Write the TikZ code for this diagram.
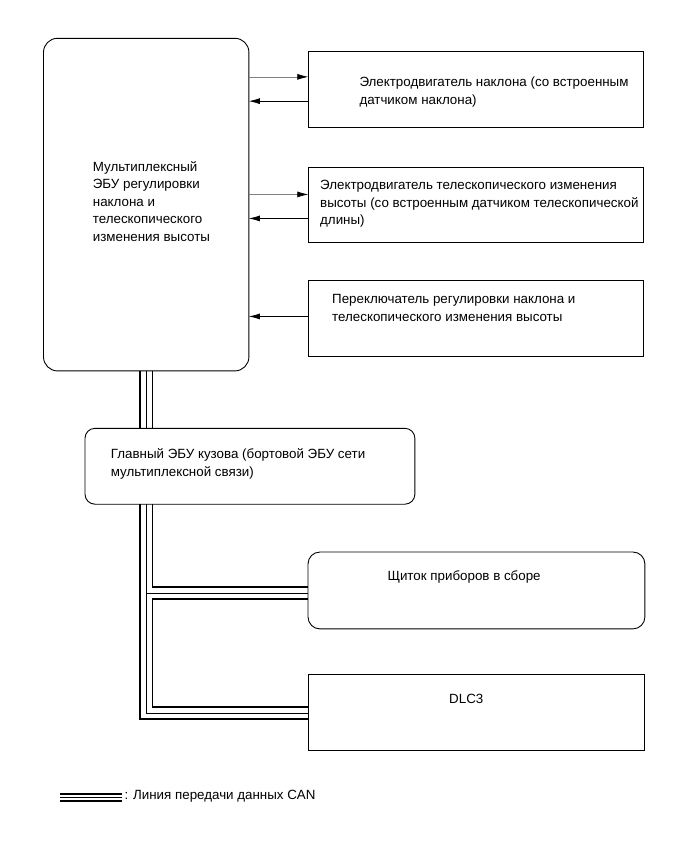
\documentclass[tikz,border=0pt]{standalone}
\usepackage{fontspec}
\setmainfont{Liberation Sans}
\usetikzlibrary{arrows.meta}
\begin{document}
\begin{tikzpicture}[x=1pt,y=-1pt,
  box/.style={draw, line width=0.9pt, inner sep=0pt, anchor=north west},
  lbl/.style={anchor=base west, inner sep=0pt, font=\fontsize{13.35}{17.6}\selectfont},
  outarr/.style={draw=black!50, line width=0.7pt, -{Latex[length=11pt,width=6pt,black]}},
  inarr/.style={draw=black, line width=0.7pt, -{Latex[length=11pt,width=6pt]}},
  busouter/.style={line width=14pt},
  businner/.style={draw=white, line width=10.4pt},
  buscenter/.style={line width=0.8pt},
  legouter/.style={line width=9pt},
  leginner/.style={draw=white, line width=5.4pt}
]
\useasboundingbox[fill=white] (0,0) rectangle (691,855);

% box outlines (positions)
\path (43.5,38.3) node[box, draw=none, minimum width=204.5pt, minimum height=331.7pt] (ecu) {};
\path (85,428.3) node[box, draw=none, minimum width=329pt, minimum height=75pt] (bcm) {};
\path (308,552) node[box, draw=none, minimum width=336pt, minimum height=76pt] (clu) {};
\path (308.3,674) node[box, draw=none, minimum width=335pt, minimum height=75.3pt] (dlc) {};

% CAN bus
\coordinate (bx) at (146.3,0);
\coordinate (cy) at (0,593);
\coordinate (dy) at (0,713);
\foreach \st in {busouter,businner,buscenter}{
  \draw[\st] (ecu.south -| bx) -- (bcm.north -| bx);
  \draw[\st] (bcm.south -| bx) -- (bx |- dy) -- (dlc.west |- dy);
  \draw[\st] (bx |- cy) -- (clu.west |- cy);
}

% boxes
\draw[line width=0.9pt, rounded corners=14pt] (ecu.north west) rectangle (ecu.south east);
\node[box, minimum width=335pt, minimum height=76pt] (m1) at (308.3,50.7) {};
\node[box, minimum width=335pt, minimum height=75.6pt] (m2) at (308.3,166.7) {};
\node[box, minimum width=335pt, minimum height=76pt] (m3) at (308.3,280) {};
\draw[line width=0.9pt, rounded corners=10pt] (bcm.north west) rectangle (bcm.south east);
\draw[line width=0.9pt, rounded corners=12pt] (clu.north west) rectangle (clu.south east);
\draw[line width=0.9pt] (dlc.north west) rectangle (dlc.south east);

% arrows
\coordinate (m1o) at ([yshift=12.3pt]m1.west);
\coordinate (m1i) at ([yshift=-12pt]m1.west);
\coordinate (m2o) at ([yshift=10.5pt]m2.west);
\coordinate (m2i) at ([yshift=-13.5pt]m2.west);
\coordinate (m3i) at ([yshift=2pt]m3.west);
\draw[outarr] (ecu.east |- m1o) -- (m1o);
\draw[inarr] (m1i) -- (ecu.east |- m1i);
\draw[outarr] (ecu.east |- m2o) -- (m2o);
\draw[inarr] (m2i) -- (ecu.east |- m2i);
\draw[inarr] (m3i) -- (ecu.east |- m3i);

% texts
\node[lbl] (tecu) at (92.7,171.1) {\vtop{\hbox{Мультиплексный}\hbox{ЭБУ регулировки}\hbox{наклона и}\hbox{телескопического}\hbox{изменения высоты}}};
\node[lbl] (tm1) at (359.3,86.7) {\vtop{\hbox{Электродвигатель наклона (со встроенным}\hbox{датчиком наклона)}}};
\node[lbl] (tm2) at (320,189.4) {\vtop{\hbox{Электродвигатель телескопического изменения}\hbox{высоты (со встроенным датчиком телескопической}\hbox{длины)}}};
\node[lbl] (tm3) at (332,303.4) {\vtop{\hbox{Переключатель регулировки наклона и}\hbox{телескопического изменения высоты}}};
\node[lbl] (tbcm) at (110.7,458.7) {\vtop{\hbox{Главный ЭБУ кузова (бортовой ЭБУ сети}\hbox{мультиплексной связи)}}};
\node[lbl] (tclu) at (387.3,580.4) {Щиток приборов в сборе};
\node[lbl] (tdlc) at (449,703.4) {DLC3};

% legend
\coordinate (l1) at (60,797.3);
\coordinate (l2) at (121.7,797.3);
\draw[legouter] (l1) -- (l2);
\draw[leginner] (l1) -- (l2);
\draw[buscenter] (l1) -- (l2);
\node[lbl] (tleg) at (124.3,799.8) {: Линия передачи данных CAN};
\end{tikzpicture}
\end{document}
